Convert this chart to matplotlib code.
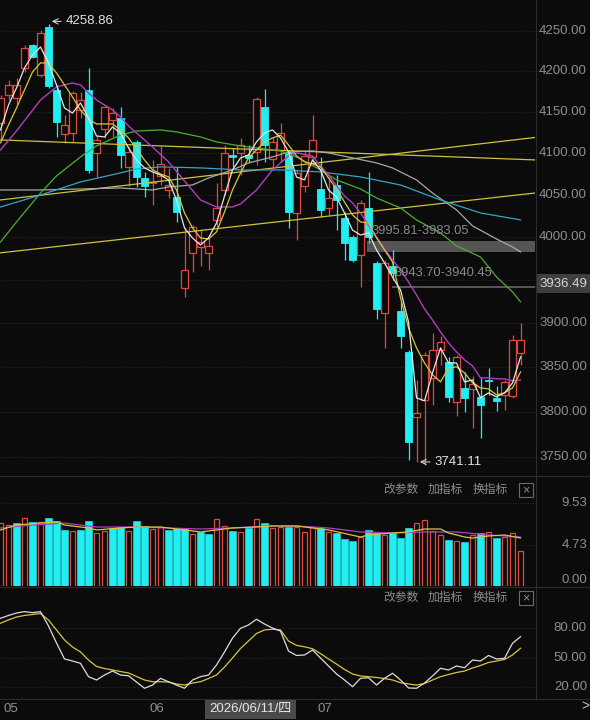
import numpy as np
import matplotlib
matplotlib.use('Agg')
import matplotlib.pyplot as plt
from matplotlib.patches import Rectangle

plt.rcParams['font.family'] = ['Liberation Sans', 'Noto Sans CJK SC', 'DejaVu Sans']

BG = '#0b0b0b'
RED = '#e0483e'
CYAN = '#22eef2'
GRID = '#333333'
LABEL = '#8e8e8e'

# ── candles ─────────────────────────────────────────────
opens = [4136.7, 4170.9, 4167.2, 4204.1, 4232.6, 4195.5, 4255.0, 4177.0, 4123.4, 4124.6,
         4152.1, 4177.0, 4100.4, 4129.4, 4140.3, 4142.7, 4083.6, 4113.7, 4070.4, 4064.4,
         4072.8, 4056.0, 4047.6, 3940.9, 3981.7, 3988.7, 3981.7, 4020.5, 4056.0, 4098.0,
         4100.4, 4098.0, 4101.6, 4156.1, 4093.2, 4104.0, 4101.6, 4028.8, 4060.8, 4095.6,
         4057.2, 4034.6, 4062.0, 4022.8, 4000.4, 3979.3, 4034.6, 3970.0, 3912.1, 3966.5,
         3914.4, 3867.5, 3794.3, 3813.4, 3838.1, 3869.8, 3856.2, 3811.2, 3826.8, 3825.7,
         3816.8, 3835.8, 3815.6, 3819.0, 3817.9, 3866.4]
highs = [4170.9, 4189.3, 4191.8, 4232.6, 4233.9, 4251.3, 4258.86, 4183.2, 4146.4, 4175.8,
         4174.6, 4204.1, 4120.9, 4157.3, 4154.9, 4156.1, 4108.8, 4116.1, 4077.6, 4092.0,
         4108.8, 4082.4, 4083.6, 4011.0, 4014.5, 4008.5, 3999.2, 4064.4, 4110.0, 4106.4,
         4118.5, 4110.0, 4168.4, 4178.2, 4119.7, 4136.7, 4104.0, 4080.0, 4104.0, 4146.4,
         4095.6, 4071.6, 4074.0, 4029.9, 4002.7, 4044.1, 4077.6, 3972.3, 3973.5, 3985.2,
         3924.8, 3869.8, 3835.8, 3867.5, 3889.2, 3885.8, 3861.8, 3864.1, 3844.8, 3840.3,
         3839.2, 3849.3, 3829.0, 3835.8, 3886.9, 3900.6]
lows = [4116.1, 4164.7, 4158.6, 4199.1, 4216.5, 4193.0, 4179.5, 4119.7, 4112.5, 4113.7,
        4142.4, 4076.4, 4071.6, 4118.5, 4119.7, 4082.4, 4060.8, 4059.6, 4047.6, 4038.2,
        4062.0, 4046.4, 4018.1, 3930.5, 3959.5, 3966.5, 3961.8, 4012.2, 4050.0, 4083.6,
        4074.0, 4088.4, 4086.0, 4089.6, 4080.0, 4089.6, 4011.0, 3996.8, 4053.6, 4089.6,
        4024.1, 4026.4, 4008.5, 3973.5, 3971.2, 3942.1, 3993.3, 3905.2, 3872.1, 3950.1,
        3872.1, 3746.6, 3744.4, 3741.11, 3807.8, 3852.7, 3811.2, 3795.4, 3799.9, 3782.1,
        3771.0, 3819.0, 3801.0, 3802.1, 3815.6, 3852.7]
closes = [4167.2, 4183.2, 4183.2, 4228.9, 4217.7, 4247.5, 4181.9, 4137.9, 4134.3, 4173.3,
          4164.7, 4080.0, 4116.1, 4156.1, 4148.8, 4098.0, 4101.6, 4071.6, 4060.8, 4065.6,
          4087.2, 4062.0, 4029.9, 3961.8, 4012.2, 3994.5, 3989.8, 4034.6, 4100.4, 4095.6,
          4110.0, 4094.4, 4166.0, 4110.0, 4113.7, 4124.6, 4029.9, 4076.4, 4096.8, 4116.1,
          4032.3, 4046.4, 4044.1, 3993.3, 3973.5, 4040.5, 4000.4, 3916.7, 3970.0, 3958.3,
          3885.8, 3766.6, 3798.8, 3864.1, 3869.8, 3878.9, 3816.8, 3861.8, 3815.6, 3831.3,
          3807.8, 3834.7, 3812.3, 3833.6, 3881.2, 3881.2]

# ── moving averages ─────────────────────────────────────
ma5 = [4128.2, 4158.6, 4179.5, 4204.1, 4220.2, 4230.1, 4210.3, 4183.2, 4154.9, 4148.8,
       4161.1, 4142.7, 4120.9, 4119.7, 4131.8, 4124.6, 4106.4, 4092.0, 4082.4, 4077.6,
       4074.0, 4068.0, 4044.1, 4011.0, 3999.2, 3991.0, 3999.2, 4016.9, 4048.8, 4080.0,
       4094.4, 4098.0, 4113.7, 4124.6, 4128.2, 4118.5, 4101.6, 4071.6, 4068.0, 4092.0,
       4080.0, 4056.0, 4047.6, 4028.7, 4008.5, 4002.7, 4005.0, 3985.2, 3970.0, 3953.6,
       3938.6, 3901.7, 3815.6, 3812.3, 3843.7, 3872.1, 3855.0, 3855.0, 3833.6, 3835.8,
       3815.6, 3821.2, 3816.7, 3821.2, 3832.5, 3861.8]
ma10 = [4112.5, 4134.3, 4154.9, 4177.0, 4199.1, 4210.3, 4210.3, 4197.9, 4183.2, 4168.4,
        4152.4, 4141.5, 4135.5, 4135.5, 4135.5, 4128.2, 4118.5, 4105.2, 4092.0, 4080.0,
        4075.2, 4071.6, 4056.0, 4028.7, 4011.0, 3999.2, 3998.0, 4006.3, 4029.9, 4056.0,
        4076.4, 4094.4, 4104.0, 4113.7, 4118.5, 4122.1, 4110.0, 4096.8, 4089.6, 4087.2,
        4083.6, 4070.4, 4057.2, 4041.7, 4026.4, 4018.1, 4016.9, 3999.2, 3985.2, 3971.2,
        3929.4, 3894.9, 3872.1, 3855.0, 3841.5, 3833.6, 3849.3, 3850.5, 3843.7, 3832.5,
        3826.8, 3825.7, 3819.0, 3821.2, 3826.8, 3844.8]
ma20_idx = [0, 2, 5, 7, 9, 10, 11, 12, 14, 15, 16, 17, 19, 21, 23, 25, 27, 29, 30, 32,
            34, 36, 37, 39, 40, 41, 42, 43, 44, 45, 46, 47, 48, 49, 50, 51, 52, 53, 54, 55,
            56, 57, 58, 59, 60, 61, 62, 63, 64, 65]
ma20 = [4104.0, 4127.0, 4164.7, 4180.7, 4185.6, 4183.2, 4173.3, 4164.7, 4152.5, 4144.0,
        4133.0, 4124.6, 4107.6, 4089.6, 4066.8, 4044.1, 4035.8, 4035.8, 4039.4, 4056.0,
        4080.0, 4096.8, 4100.4, 4096.8, 4084.8, 4074.0, 4060.8, 4048.8, 4040.5, 4028.7,
        4014.5, 4000.4, 3986.3, 3973.5, 3961.8, 3947.8, 3932.8, 3916.6, 3904.0, 3890.3,
        3877.8, 3867.5, 3858.4, 3851.6, 3838.1, 3838.1, 3837.0, 3837.0, 3834.7, 3835.8]
ma30_idx = [0, 2, 5, 7, 10, 12, 15, 17, 20, 22, 25, 27, 30, 32, 35, 37, 40, 42, 45, 47,
            50, 52, 55, 57, 60, 62, 64, 65]
ma30 = [3994.5, 4018.1, 4052.4, 4072.8, 4095.6, 4108.8, 4122.1, 4126.9, 4128.2, 4125.8,
        4119.7, 4113.7, 4108.8, 4106.4, 4102.8, 4095.6, 4080.0, 4068.0, 4057.2, 4046.5,
        4034.6, 4020.5, 4005.1, 3990.0, 3976.9, 3953.6, 3936.3, 3924.8]
ma60_idx = [0, 5, 10, 15, 17, 20, 25, 30, 35, 40, 45, 50, 55, 60, 65]
ma60 = [4035.8, 4050.0, 4065.6, 4076.4, 4081.2, 4083.6, 4082.4, 4080.0, 4080.0, 4077.6,
        4071.6, 4062.0, 4044.1, 4028.7, 4020.5]
ma120_idx = [0, 5, 10, 15, 19, 21, 24, 26, 29, 31, 34, 36, 39, 41, 44, 47, 49, 52, 54, 57,
             59, 62, 64, 65]
ma120 = [4056.0, 4056.0, 4057.2, 4058.4, 4056.0, 4059.6, 4062.0, 4070.4, 4080.0, 4088.4,
         4095.6, 4101.6, 4102.8, 4100.4, 4094.4, 4088.4, 4082.4, 4068.0, 4052.4, 4032.3,
         4013.4, 3998.0, 3988.7, 3982.8]

# trend lines: price at left edge, price at right edge
trend_lines = [(3981.7, 4052.4), (4044.1, 4119.1), (4116.1, 4092.0)]

# gaps
gap_hi = [3995.81, 3943.70]
gap_lo = [3983.05, 3940.45]
gap_start = [45.8, 48.9]

price_ticks = [4250, 4200, 4150, 4100, 4050, 4000, 3900, 3850, 3800, 3750]

# ── volume ──────────────────────────────────────────────
volume = [7.24, 7.04, 7.24, 7.82, 7.42, 7.42, 7.89, 7.54, 6.47, 6.35,
          6.47, 7.54, 6.09, 6.35, 6.66, 6.78, 6.35, 7.54, 6.96, 6.58,
          6.78, 6.47, 6.73, 6.73, 6.00, 6.24, 5.97, 7.70, 6.96, 6.39,
          6.24, 6.73, 7.70, 7.31, 6.66, 6.85, 6.85, 6.85, 6.27, 6.85,
          6.66, 6.27, 6.15, 5.39, 5.20, 5.69, 6.47, 6.09, 5.89, 6.09,
          5.51, 6.73, 7.31, 7.62, 6.35, 5.89, 5.31, 5.20, 5.12, 5.89,
          6.09, 6.20, 5.51, 5.69, 6.09, 4.04]
vol_up = [1, 1, 0, 1, 0, 1, 0, 0, 0, 1,
          0, 0, 1, 1, 0, 0, 1, 0, 0, 1,
          1, 0, 0, 0, 1, 0, 0, 1, 1, 0,
          1, 0, 1, 0, 1, 1, 0, 1, 1, 1,
          0, 1, 0, 0, 0, 1, 0, 0, 1, 0,
          0, 0, 1, 1, 1, 1, 0, 1, 0, 1,
          0, 1, 0, 1, 1, 1]
vma5_idx = [0, 2, 5, 7, 8, 11, 12, 15, 17, 20, 22, 25, 27, 29, 32, 34, 37, 39, 41, 45,
            46, 49, 51, 53, 55, 56, 58, 59, 61, 63, 65]
vma5 = [6.47, 7.04, 7.27, 7.39, 7.04, 6.70, 6.47, 6.70, 6.81, 6.81, 6.58, 6.24, 6.47, 6.70,
        6.81, 6.93, 6.93, 6.70, 6.47, 5.66, 5.89, 6.12, 6.24, 6.58, 6.58, 6.12, 5.66, 5.54,
        5.77, 5.89, 5.54]
vma10_idx = [0, 4, 8, 12, 17, 21, 25, 29, 33, 37, 41, 45, 49, 53, 57, 61, 65]
vma10 = [6.70, 7.04, 7.27, 6.81, 6.81, 6.70, 6.58, 6.70, 6.93, 6.93, 6.70, 6.24, 6.12,
         6.24, 6.24, 5.89, 5.66]
vol_ticks = [9.53, 4.73, 0.00]

# ── KDJ ─────────────────────────────────────────────────
k_line = [90.3, 93.2, 95.7, 97.1, 96.1, 97.1, 82.4, 64.9, 48.5, 46.4,
          44.0, 30.3, 26.9, 32.0, 36.1, 32.0, 31.3, 24.8, 18.4, 21.7,
          28.6, 25.1, 21.7, 18.4, 26.9, 30.3, 32.0, 42.3, 55.7, 70.0,
          80.0, 83.4, 89.3, 84.4, 80.3, 77.2, 56.6, 52.1, 52.6, 57.7,
          49.5, 41.3, 33.1, 26.9, 20.0, 28.6, 29.2, 21.7, 28.6, 33.8,
          26.9, 18.7, 18.4, 23.8, 31.0, 38.9, 37.2, 41.3, 39.5, 47.4,
          46.4, 52.1, 48.5, 49.2, 64.6, 71.4]
d_line = [85.2, 88.6, 91.6, 93.2, 94.2, 95.2, 88.5, 78.3, 68.0, 60.8,
          55.7, 47.4, 40.8, 38.7, 37.2, 35.6, 34.1, 30.5, 26.9, 25.1,
          25.1, 24.8, 22.8, 21.7, 23.8, 25.1, 28.4, 32.0, 40.2, 49.5,
          59.3, 67.0, 74.7, 78.3, 79.0, 78.3, 66.9, 62.5, 61.0, 59.0,
          54.0, 48.5, 43.3, 37.7, 33.1, 31.0, 30.3, 29.5, 28.4, 26.9,
          24.1, 22.8, 21.7, 23.3, 26.9, 30.3, 32.5, 34.6, 36.1, 39.2,
          41.8, 44.9, 46.4, 48.0, 52.6, 59.5]
kdj_ticks = [80, 50, 20]

# ── figure layout (pixel based) ─────────────────────────
W, H = 590, 720
fig = plt.figure(figsize=(W / 100, H / 100), dpi=100, facecolor=BG)


def rect(top, bottom, left=0, right=535):
    return [left / W, 1 - bottom / H, (right - left) / W, (bottom - top) / H]


def fx(px):
    return px / W


def fy(py):
    return 1 - py / H


XL = (-0.0625, 66.81)
ax = fig.add_axes(rect(0, 474))
axv = fig.add_axes(rect(478, 586))
axk = fig.add_axes(rect(588, 698))
for a in (ax, axv, axk):
    a.set_facecolor(BG)
    a.set_xlim(*XL)
    for s in a.spines.values():
        s.set_visible(False)
    a.set_xticks([])
    a.set_yticks([])
    a.minorticks_off()

ax.set_yscale('log')
ax.set_ylim(3731.2, 4288.9)
ax.minorticks_off()
ax.set_yticks([])
axv.set_ylim(0, 12.47)
axk.set_ylim(8.4, 121.4)

n = len(opens)
x = np.arange(n)

# grid
for t in price_ticks + [3950]:
    ax.axhline(t, color=GRID, lw=0.6, ls=(0, (1, 2)), zorder=0)
for t in vol_ticks[:2]:
    axv.axhline(t, color=GRID, lw=0.6, ls=(0, (1, 2)), zorder=0)
for t in kdj_ticks:
    axk.axhline(t, color=GRID, lw=0.6, ls=(0, (1, 2)), zorder=0)

# gap bands
for hi, lo, st in zip(gap_hi, gap_lo, gap_start):
    ax.fill_between([st, XL[1]], lo, hi, color='#5e5e5e', alpha=0.9, lw=0, zorder=1.5)

# candles
for i in range(n):
    o, h, l, c = opens[i], highs[i], lows[i], closes[i]
    top, bot = max(o, c), min(o, c)
    if c >= o:
        ax.vlines(i, top, h, color=RED, lw=0.9, zorder=2)
        ax.vlines(i, l, bot, color=RED, lw=0.9, zorder=2)
        ax.bar(i, max(top - bot, 0.4), bottom=bot, width=0.76, facecolor=BG,
               edgecolor=RED, lw=0.9, zorder=2)
    else:
        ax.vlines(i, l, h, color=CYAN, lw=0.9, zorder=2)
        ax.bar(i, max(top - bot, 0.4), bottom=bot, width=0.82, facecolor=CYAN,
               edgecolor=CYAN, lw=0.6, zorder=2.1)

# MAs and trend lines
for tl in trend_lines:
    ax.plot(XL, tl, color='#cfc23c', lw=0.9, zorder=3)
ax.plot(ma120_idx, ma120, color='#a8a8a8', lw=0.9, zorder=3)
ax.plot(ma60_idx, ma60, color='#35a4c8', lw=0.9, zorder=3)
ax.plot(ma30_idx, ma30, color='#4cae32', lw=0.9, zorder=3)
ax.plot(ma20_idx, ma20, color='#b33cc0', lw=1.0, zorder=3)
ax.plot(x, ma10, color='#d8c53c', lw=0.9, zorder=3)
ax.plot(x, ma5, color='#e6e6e6', lw=0.9, zorder=3)

# gap labels
ax.text(46.4, 4007, '3995.81-3983.05', color='#8a8a8a', fontsize=9.3,
        ha='left', va='center', zorder=4)
ax.text(49.3, 3958, '3943.70-3940.45', color='#8a8a8a', fontsize=9.3,
        ha='left', va='center', zorder=4)

# high / low markers
ax.annotate('4258.86', xy=(6.4, 4262), xytext=(8.1, 4262), color='#e2e2e2',
            fontsize=9.5, ha='left', va='center',
            arrowprops=dict(arrowstyle='->', color='#cfcfcf', lw=0.8,
                            shrinkA=1, shrinkB=0))
ax.annotate('3741.11', xy=(52.4, 3744.5), xytext=(54.2, 3744.5), color='#e2e2e2',
            fontsize=9.5, ha='left', va='center',
            arrowprops=dict(arrowstyle='->', color='#cfcfcf', lw=0.8,
                            shrinkA=1, shrinkB=0))

# right side price labels
RX = 587 / 535
tr = ax.get_yaxis_transform()
for t in price_ticks:
    ax.text(RX, t, f'{t:.2f}', transform=tr, color=LABEL, fontsize=9.5,
            ha='right', va='center', clip_on=False)
ax.text(RX, 3946, '3936.49', transform=tr, color='#d4d4d4', fontsize=9.5,
        ha='right', va='center', clip_on=False,
        bbox=dict(boxstyle='square,pad=0.25', fc='#3e3e3e', ec='none'))

# volume bars
for i in range(n):
    if vol_up[i]:
        axv.bar(i, volume[i], width=0.74, facecolor=BG, edgecolor=RED, lw=0.9)
    else:
        axv.bar(i, volume[i], width=0.82, facecolor=CYAN, edgecolor=CYAN, lw=0.4)
axv.plot(vma10_idx, vma10, color='#b33cc0', lw=0.9, zorder=3)
axv.plot(vma5_idx, vma5, color='#d8c53c', lw=0.9, zorder=3)
trv = axv.get_yaxis_transform()
for t in vol_ticks:
    axv.text(RX, t, f'{t:.2f}', transform=trv, color=LABEL, fontsize=9.5, ha='right',
             va='bottom' if t == 0 else 'center', clip_on=False)

# KDJ
axk.plot(x, d_line, color='#d8c53c', lw=0.9)
axk.plot(x, k_line, color='#dcdcdc', lw=0.9)
trk = axk.get_yaxis_transform()
for t in kdj_ticks:
    axk.text(RX, t, f'{t:.2f}', transform=trk, color=LABEL, fontsize=9.5,
             ha='right', va='center', clip_on=False)

# panel separators
for py in (476, 587, 699):
    fig.add_artist(plt.Line2D([0, 1], [fy(py), fy(py)], color='#2c2c2c', lw=0.8))
fig.add_artist(plt.Line2D([fx(535.5), fx(535.5)], [fy(0), fy(699)], color='#2c2c2c', lw=0.8))

# indicator headers
for ty in (490, 598):
    for tx, s in zip((383, 428, 473), ('改参数', '加指标', '换指标')):
        fig.text(fx(tx), fy(ty), s, color='#8e8e8e', fontsize=8.5, ha='left', va='center')
    fig.add_artist(Rectangle((fx(519), fy(ty + 7)), 14 / W, 14 / H, transform=fig.transFigure,
                             fc='none', ec='#6a6a6a', lw=0.8))
    fig.text(fx(526), fy(ty), '×', color='#8e8e8e', fontsize=9, ha='center', va='center')

# date axis
for tx, s in ((3, '05'), (150, '06'), (317, '07')):
    fig.text(fx(tx), fy(709), s, color='#8e8e8e', fontsize=9.5, ha='left', va='center')
fig.add_artist(Rectangle((fx(205), fy(719)), 91 / W, 20 / H, transform=fig.transFigure,
                         fc='#4a4a4a', ec='none'))
fig.text(fx(250.5), fy(709), '2026/06/11/四', color='#e6e6e6', fontsize=9.5,
         ha='center', va='center')
fig.text(fx(585), fy(706), '>', color='#bdbdbd', fontsize=10, ha='center', va='center')

fig.savefig('out.png', dpi=100, facecolor=BG)
